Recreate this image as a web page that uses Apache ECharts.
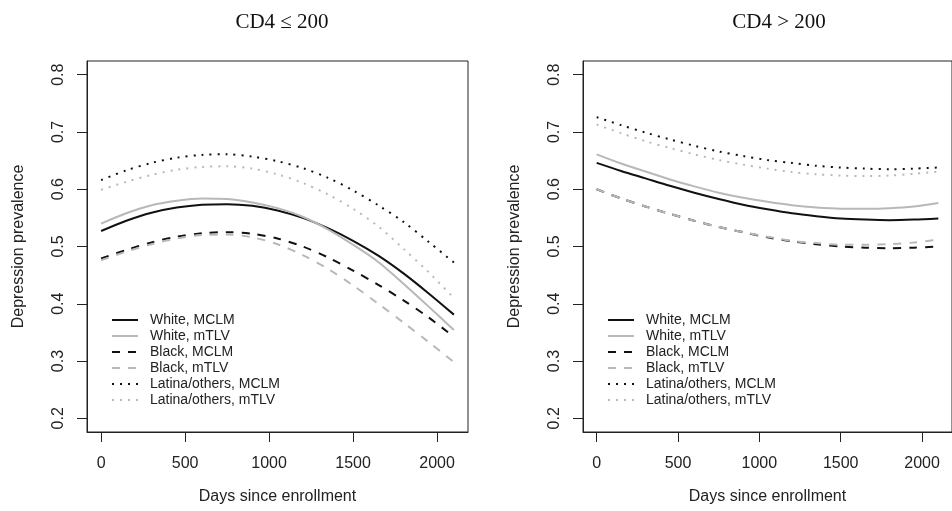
<!DOCTYPE html>
<html>
<head>
<meta charset="utf-8">
<script src="https://cdn.jsdelivr.net/npm/echarts@6/dist/echarts.min.js"></script>
<style>
  html, body { margin: 0; padding: 0; background: #fff; }
  #chart { width: 952px; height: 511px; }
</style>
</head>
<body>
<div id="chart"></div>
<script>
// days since enrollment (x)
const days = [0, 150, 300, 450, 600, 750, 900, 1050, 1200, 1350, 1500, 1650, 1800, 1950, 2100];
const xTicks = [0, 500, 1000, 1500, 2000];
const yTicks = [0.2, 0.3, 0.4, 0.5, 0.6, 0.7, 0.8];
const names = ['White, MCLM', 'White, mTLV', 'Black, MCLM', 'Black, mTLV', 'Latina/others, MCLM', 'Latina/others, mTLV'];

// CD4 <= 200
const lowWhiteMCLM = [0.527, 0.545, 0.559, 0.568, 0.573, 0.574, 0.571, 0.563, 0.550, 0.532, 0.510, 0.484, 0.453, 0.418, 0.381];
const lowWhiteTLV  = [0.540, 0.558, 0.572, 0.580, 0.584, 0.583, 0.577, 0.567, 0.552, 0.530, 0.503, 0.473, 0.435, 0.395, 0.354];
const lowBlackMCLM = [0.479, 0.494, 0.507, 0.517, 0.523, 0.525, 0.522, 0.514, 0.500, 0.481, 0.458, 0.433, 0.406, 0.376, 0.342];
const lowBlackTLV  = [0.476, 0.491, 0.504, 0.514, 0.520, 0.521, 0.516, 0.504, 0.485, 0.461, 0.432, 0.400, 0.367, 0.333, 0.298];
const lowLatMCLM   = [0.616, 0.633, 0.646, 0.655, 0.660, 0.661, 0.657, 0.649, 0.637, 0.620, 0.598, 0.572, 0.543, 0.508, 0.472];
const lowLatTLV    = [0.599, 0.613, 0.625, 0.634, 0.639, 0.640, 0.636, 0.626, 0.611, 0.591, 0.566, 0.535, 0.496, 0.455, 0.410];

// CD4 > 200
const highWhiteMCLM = [0.646, 0.632, 0.619, 0.606, 0.594, 0.583, 0.573, 0.565, 0.558, 0.553, 0.549, 0.547, 0.546, 0.547, 0.549];
const highWhiteTLV  = [0.661, 0.645, 0.631, 0.617, 0.605, 0.594, 0.585, 0.578, 0.572, 0.568, 0.566, 0.566, 0.567, 0.570, 0.576];
const highBlackMCLM = [0.600, 0.584, 0.570, 0.557, 0.545, 0.534, 0.525, 0.516, 0.509, 0.504, 0.500, 0.498, 0.497, 0.498, 0.500];
const highBlackTLV  = [0.600, 0.584, 0.570, 0.557, 0.545, 0.534, 0.525, 0.517, 0.510, 0.506, 0.503, 0.503, 0.504, 0.507, 0.512];
const highLatMCLM   = [0.726, 0.712, 0.699, 0.687, 0.676, 0.666, 0.658, 0.651, 0.646, 0.641, 0.638, 0.636, 0.635, 0.636, 0.638];
const highLatTLV    = [0.713, 0.698, 0.684, 0.672, 0.661, 0.651, 0.643, 0.636, 0.630, 0.626, 0.624, 0.623, 0.624, 0.627, 0.631];

const BLACK = '#111111';
const GREY = '#b8b8b8';
const DASH = [8, 8];
const DOT = [2, 6];
const styles = [
  { color: BLACK, type: 'solid' },
  { color: GREY, type: 'solid' },
  { color: BLACK, type: DASH },
  { color: GREY, type: DASH },
  { color: BLACK, type: DOT },
  { color: GREY, type: DOT }
];
const FONT = 'Liberation Sans, Arial, sans-serif';

function makeSeries (sets, gridIdx) {
  return sets.map((vals, i) => ({
    name: names[i],
    type: 'line',
    xAxisIndex: gridIdx,
    yAxisIndex: gridIdx,
    data: days.map((d, k) => [d, vals[k]]),
    smooth: 0.3,
    symbol: 'none',
    lineStyle: { color: styles[i].color, type: styles[i].type, width: 2 },
    itemStyle: { color: styles[i].color }
  }));
}

function xAxis (gridIdx) {
  return {
    type: 'value', gridIndex: gridIdx, min: -84, max: 2184,
    name: 'Days since enrollment', nameLocation: 'middle', nameGap: 57,
    nameTextStyle: { fontSize: 16, fontFamily: FONT, color: '#222' },
    axisLine: { show: true, onZero: false, lineStyle: { color: '#222', width: 1 } },
    splitLine: { show: false },
    axisTick: { show: true, inside: false, length: 10, customValues: xTicks, lineStyle: { color: '#222' } },
    axisLabel: { customValues: xTicks, fontSize: 16, fontFamily: FONT, color: '#222', margin: 24,
      formatter: v => String(v) }
  };
}

function yAxis (gridIdx) {
  return {
    type: 'value', gridIndex: gridIdx, min: 0.176, max: 0.824,
    name: 'Depression prevalence', nameLocation: 'middle', nameGap: 60,
    nameTextStyle: { fontSize: 16, fontFamily: FONT, color: '#222' },
    axisLine: { show: true, onZero: false, lineStyle: { color: '#222', width: 1 } },
    splitLine: { show: false },
    axisTick: { show: true, inside: false, length: 10, customValues: yTicks, lineStyle: { color: '#222' } },
    axisLabel: {
      customValues: yTicks, rotate: 90, fontSize: 16, fontFamily: FONT, color: '#222', margin: 20,
      formatter: v => v.toFixed(1)
    }
  };
}

function legend (left) {
  return {
    data: names, orient: 'vertical', left: left, top: 313, padding: 0,
    itemWidth: 26, itemHeight: 14, itemGap: 2,
    selectedMode: false,
    itemStyle: { opacity: 0 },
    textStyle: { fontSize: 14, fontFamily: FONT, color: '#222', padding: [0, 0, 0, 7] }
  };
}

const chart = echarts.init(document.getElementById('chart'), null, { renderer: 'canvas' });
chart.setOption({
  animation: false,
  backgroundColor: '#fff',
  title: [
    { text: 'CD4 ≤ 200', left: 277, top: 7, textAlign: 'center',
      textStyle: { fontFamily: 'Liberation Serif, serif', fontSize: 21, fontWeight: 'normal', color: '#111' } },
    { text: 'CD4 > 200', left: 774, top: 7, textAlign: 'center',
      textStyle: { fontFamily: 'Liberation Serif, serif', fontSize: 21, fontWeight: 'normal', color: '#111' } }
  ],
  grid: [
    { left: 87, top: 61, width: 381, height: 371, show: true, borderColor: '#222', borderWidth: 1, backgroundColor: 'transparent' },
    { left: 583, top: 61, width: 381, height: 371, show: true, borderColor: '#222', borderWidth: 1, backgroundColor: 'transparent' }
  ],
  xAxis: [xAxis(0), xAxis(1)],
  yAxis: [yAxis(0), yAxis(1)],
  legend: [legend(111), legend(607)],
  series: makeSeries([lowWhiteMCLM, lowWhiteTLV, lowBlackMCLM, lowBlackTLV, lowLatMCLM, lowLatTLV], 0)
    .concat(makeSeries([highWhiteMCLM, highWhiteTLV, highBlackMCLM, highBlackTLV, highLatMCLM, highLatTLV], 1))
});
</script>
</body>
</html>
